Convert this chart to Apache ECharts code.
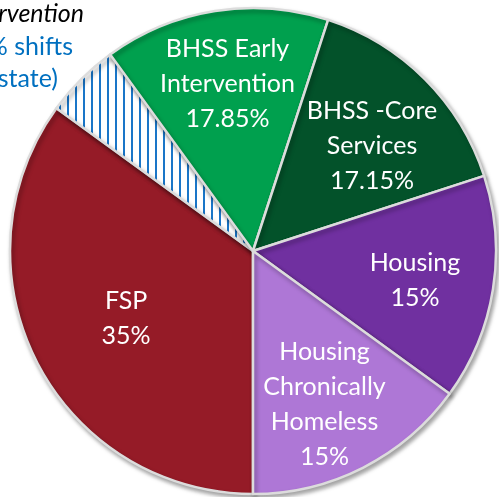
<!DOCTYPE html>
<html>
<head>
<meta charset="utf-8">
<script src="https://cdn.jsdelivr.net/npm/echarts@6/dist/echarts.min.js"></script>
<style>
    html, body { margin: 0; padding: 0; background: #fff; }
    #main { width: 499px; height: 497px; }
</style>
</head>
<body>
<div id="main"></div>
<script>
// slice data, clockwise from 6 o'clock
const names = ['FSP', 'Early Intervention shift', 'BHSS Early Intervention', 'BHSS -Core Services', 'Housing', 'Housing Chronically Homeless'];
const values = [35, 5, 15, 15, 15, 15];
const labels = ['FSP\n35%', '', 'BHSS Early\nIntervention\n17.85%', 'BHSS -Core\nServices\n17.15%', 'Housing\n15%', 'Housing\nChronically\nHomeless\n15%'];
const noteLines = ['Early Intervention', '(5% shifts', 'from state)'];

const colors = ['#951b27', null, '#00a04e', '#03522a', '#7030a0', '#ae77d6'];
const labelOffsets = [[-16, 11], [0, 0], [-6, -44], [31, -17], [39, 10], [15, 43]];

// white with blue vertical stripes for the hatched slice
function stripes() {
    const c = document.createElement('canvas');
    c.width = 8;
    c.height = 8;
    const ctx = c.getContext('2d');
    ctx.fillStyle = '#ffffff';
    ctx.fillRect(0, 0, 8, 8);
    ctx.fillStyle = '#1a76c8';
    ctx.fillRect(3, 0, 2, 8);
    return c;
}

const chart = echarts.init(document.getElementById('main'));
const font = 'Lato, "Open Sans", sans-serif';

const seriesData = names.map((n, i) => ({
    name: n,
    value: values[i],
    itemStyle: {
        color: colors[i] ? colors[i] : { image: stripes(), repeat: 'repeat' }
    },
    label: {
        show: labels[i] !== '',
        formatter: labels[i],
        offset: labelOffsets[i]
    }
}));

const option = {
    animation: false,
    series: [{
        type: 'pie',
        center: [253, 251],
        radius: 243,
        startAngle: -90,
        clockwise: true,
        itemStyle: {
            borderColor: '#dcdcdc',
            borderWidth: 2.5,
            shadowColor: 'rgba(0,0,0,0.35)',
            shadowBlur: 4,
            shadowOffsetX: 2,
            shadowOffsetY: 3
        },
        label: {
            position: 'inside',
            color: '#ffffff',
            fontFamily: font,
            fontSize: 25,
            lineHeight: 35,
            align: 'center'
        },
        labelLine: { show: false },
        emphasis: { disabled: true },
        data: seriesData
    }],
    graphic: [
        { type: 'text', right: 499 - 84, top: 1, style: { text: noteLines[0], fill: '#000', font: 'italic 25px ' + font } },
        { type: 'text', right: 499 - 73, top: 34, style: { text: noteLines[1], fill: '#0070c0', font: '25px ' + font } },
        { type: 'text', right: 499 - 58, top: 66, style: { text: noteLines[2], fill: '#0070c0', font: '25px ' + font } }
    ]
};

chart.setOption(option);
</script>
</body>
</html>
